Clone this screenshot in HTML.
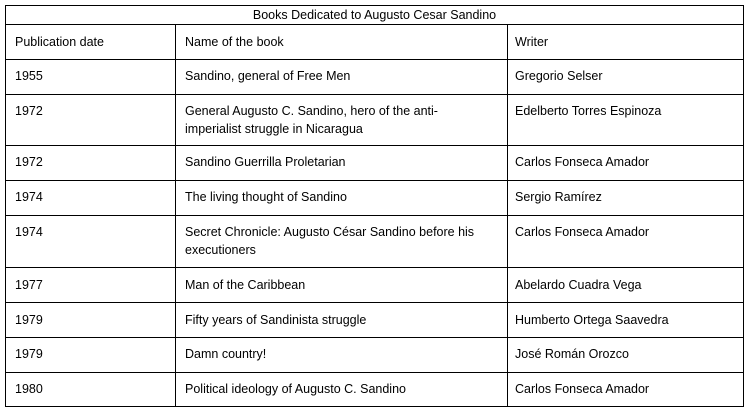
<!DOCTYPE html>
<html><head><meta charset="utf-8"><style>
body{margin:0;width:750px;height:412px;background:#fff;position:relative;overflow:hidden;font-family:"Liberation Sans",sans-serif;font-size:12.5px;color:#000}
.h{position:absolute;left:5px;width:739px;height:1px;background:#000}
.v{position:absolute;width:1px;background:#000}
.t{position:absolute;line-height:18px;white-space:nowrap}
</style></head><body>
<div class="h" style="top:5px"></div>
<div class="h" style="top:24px"></div>
<div class="h" style="top:59px"></div>
<div class="h" style="top:94px"></div>
<div class="h" style="top:145px"></div>
<div class="h" style="top:180px"></div>
<div class="h" style="top:215px"></div>
<div class="h" style="top:267px"></div>
<div class="h" style="top:302px"></div>
<div class="h" style="top:337px"></div>
<div class="h" style="top:372px"></div>
<div class="h" style="top:406px"></div>
<div class="v" style="left:5px;top:5px;height:402px"></div>
<div class="v" style="left:743px;top:5px;height:402px"></div>
<div class="v" style="left:175px;top:24px;height:383px"></div>
<div class="v" style="left:507px;top:24px;height:383px"></div>
<div class="t" style="left:5px;width:739px;text-align:center;top:6px">Books Dedicated to Augusto Cesar Sandino</div>

<div class="t" style="left:15px;top:33px">Publication date</div>
<div class="t" style="left:185px;top:33px">Name of the book</div>
<div class="t" style="left:515px;top:33px">Writer</div>

<div class="t" style="left:15px;top:67px">1955</div>
<div class="t" style="left:185px;top:67px">Sandino, general of Free Men</div>
<div class="t" style="left:515px;top:67px">Gregorio Selser</div>

<div class="t" style="left:15px;top:102px">1972</div>
<div class="t" style="left:185px;top:102px">General Augusto C. Sandino, hero of the anti-<br>imperialist struggle in Nicaragua</div>
<div class="t" style="left:515px;top:102px">Edelberto Torres Espinoza</div>

<div class="t" style="left:15px;top:153px">1972</div>
<div class="t" style="left:185px;top:153px">Sandino Guerrilla Proletarian</div>
<div class="t" style="left:515px;top:153px">Carlos Fonseca Amador</div>

<div class="t" style="left:15px;top:188px">1974</div>
<div class="t" style="left:185px;top:188px">The living thought of Sandino</div>
<div class="t" style="left:515px;top:188px">Sergio Ramírez</div>

<div class="t" style="left:15px;top:223px">1974</div>
<div class="t" style="left:185px;top:223px">Secret Chronicle: Augusto César Sandino before his<br>executioners</div>
<div class="t" style="left:515px;top:223px">Carlos Fonseca Amador</div>

<div class="t" style="left:15px;top:276px">1977</div>
<div class="t" style="left:185px;top:276px">Man of the Caribbean</div>
<div class="t" style="left:515px;top:276px">Abelardo Cuadra Vega</div>

<div class="t" style="left:15px;top:311px">1979</div>
<div class="t" style="left:185px;top:311px">Fifty years of Sandinista struggle</div>
<div class="t" style="left:515px;top:311px">Humberto Ortega Saavedra</div>

<div class="t" style="left:15px;top:345px">1979</div>
<div class="t" style="left:185px;top:345px">Damn country!</div>
<div class="t" style="left:515px;top:345px">José Román Orozco</div>

<div class="t" style="left:15px;top:380px">1980</div>
<div class="t" style="left:185px;top:380px">Political ideology of Augusto C. Sandino</div>
<div class="t" style="left:515px;top:380px">Carlos Fonseca Amador</div>
</body></html>
